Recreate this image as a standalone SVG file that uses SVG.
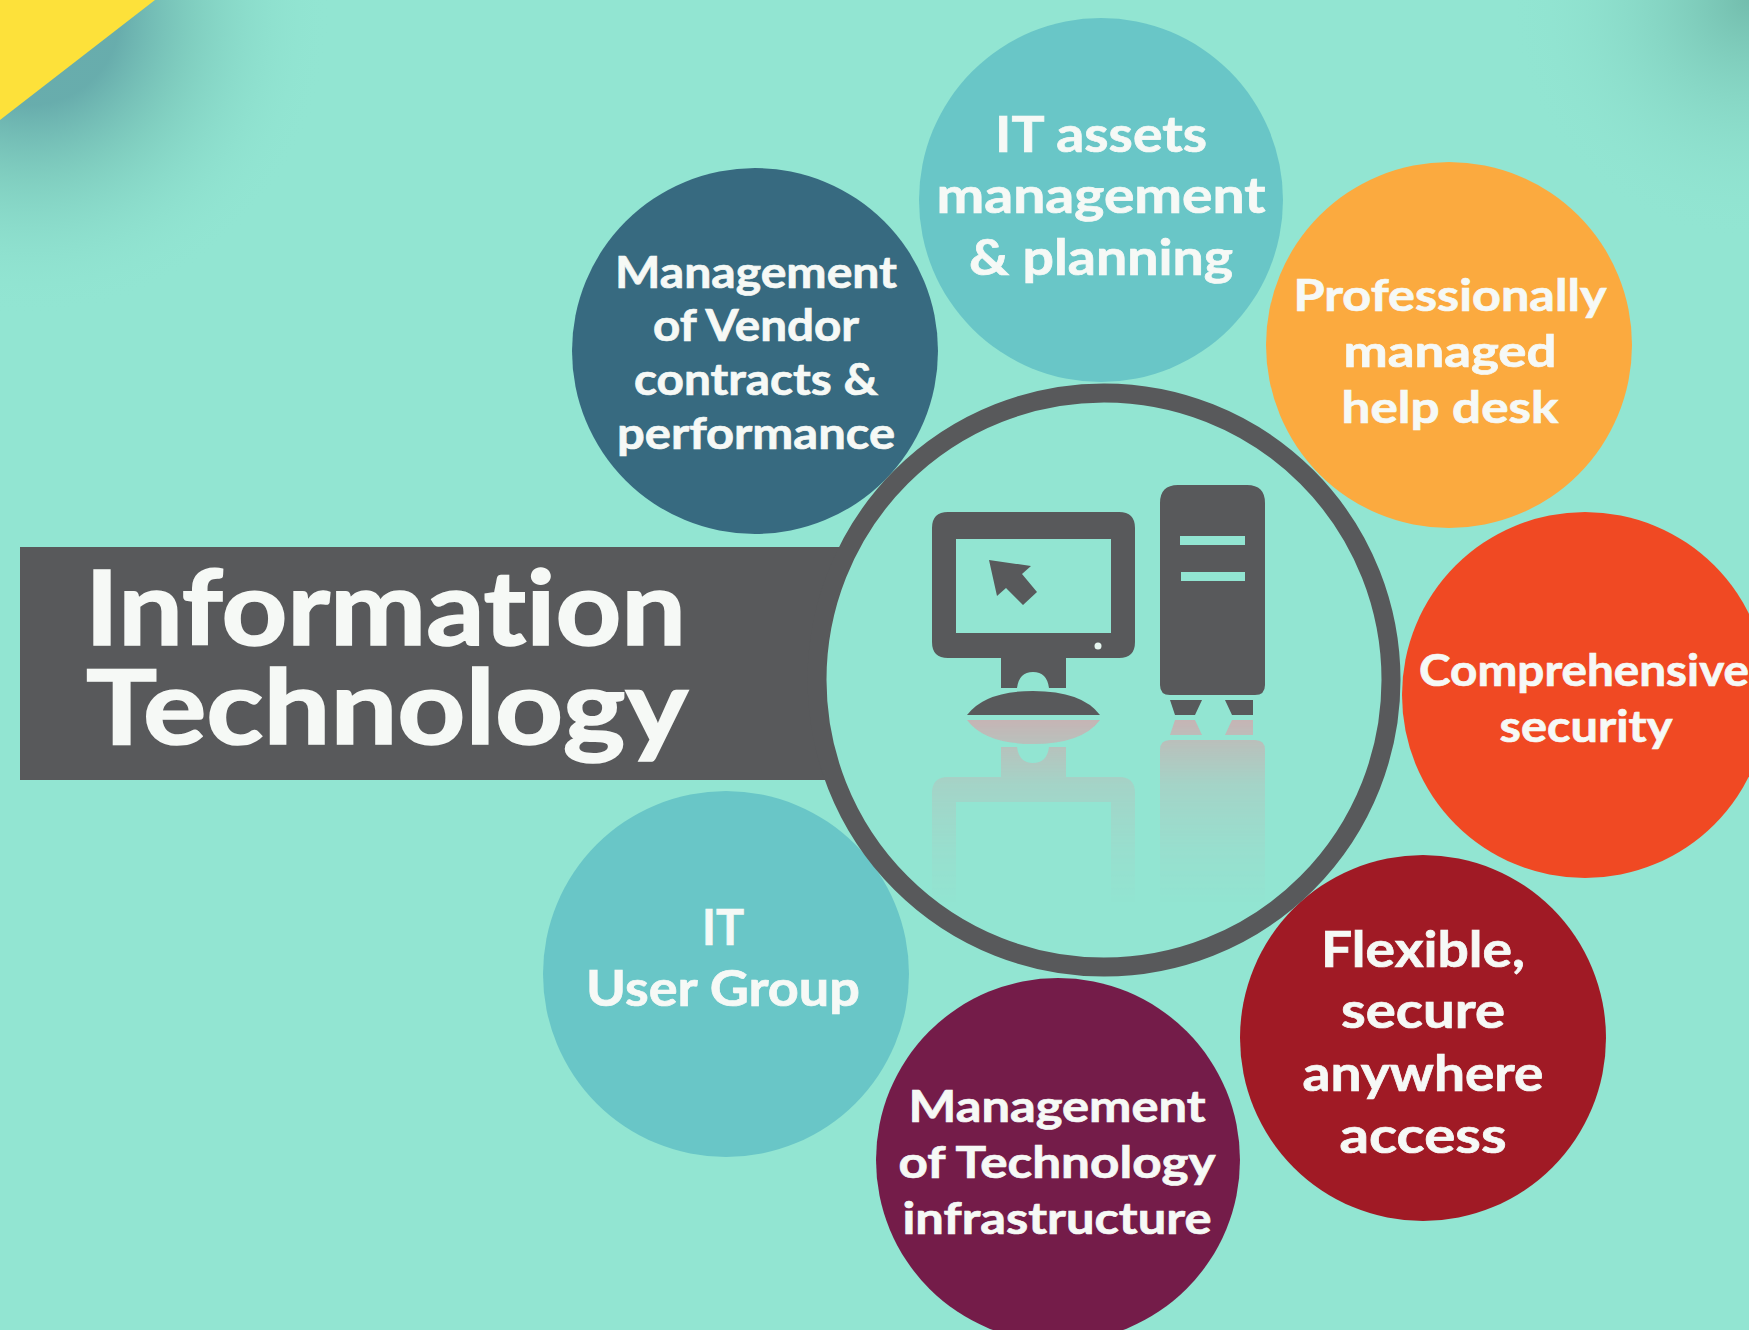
<svg xmlns="http://www.w3.org/2000/svg" xmlns:xlink="http://www.w3.org/1999/xlink" width="1749" height="1330" viewBox="0 0 1749 1330">
<style>
text{font-family:"Lato","Open Sans","Liberation Sans",sans-serif;font-weight:700;fill:#f6f9f6;stroke:#f6f9f6;stroke-width:0.7;text-anchor:middle;font-variant-ligatures:none}
.s{font-size:49px}
.v{font-size:44px}
.t{font-size:104px;text-anchor:start;stroke-width:1.6}
.g{fill:#58595b}
.r{fill:#c6b4b4}
</style>
<defs>
<radialGradient id="tl" gradientUnits="userSpaceOnUse" cx="30" cy="15" r="300">
<stop offset="0.3" stop-color="#5a9aa0" stop-opacity="0.75"/>
<stop offset="0.55" stop-color="#6cb4ab" stop-opacity="0.45"/>
<stop offset="1" stop-color="#92e5d2" stop-opacity="0"/>
</radialGradient>
<radialGradient id="tr" gradientUnits="userSpaceOnUse" cx="1749" cy="0" r="240">
<stop offset="0" stop-color="#6bb3a4" stop-opacity="0.8"/>
<stop offset="1" stop-color="#92e5d2" stop-opacity="0"/>
</radialGradient>
<linearGradient id="fade" gradientUnits="userSpaceOnUse" x1="0" y1="720" x2="0" y2="905">
<stop offset="0" stop-color="#fff" stop-opacity="1"/>
<stop offset="0.15" stop-color="#fff" stop-opacity="0.7"/>
<stop offset="0.35" stop-color="#fff" stop-opacity="0.35"/>
<stop offset="0.7" stop-color="#fff" stop-opacity="0.12"/>
<stop offset="1" stop-color="#fff" stop-opacity="0"/>
</linearGradient>
<mask id="rm" maskUnits="userSpaceOnUse" x="900" y="700" width="400" height="230"><rect x="900" y="700" width="400" height="230" fill="url(#fade)"/></mask>
</defs>
<g id="background">
<rect width="1749" height="1330" fill="#92e5d2"/>
<rect width="340" height="320" fill="url(#tl)"/>
<rect x="1500" width="249" height="250" fill="url(#tr)"/>
<path d="M0 0H155L0 120Z" fill="#fde13a"/>
</g>
<g id="node-vendor"><circle cx="755" cy="351" r="183" fill="#376a80"/></g>
<g id="node-assets"><circle cx="1101" cy="200" r="182" fill="#69c6c7"/></g>
<g id="node-helpdesk"><circle cx="1449" cy="345" r="183" fill="#fbaa3f"/></g>
<g id="node-security"><circle cx="1585" cy="695" r="183" fill="#f04923"/></g>
<g id="node-access"><circle cx="1423" cy="1038" r="183" fill="#a01a25"/></g>
<g id="node-infrastructure"><circle cx="1058" cy="1160" r="182" fill="#741c49"/></g>
<g id="node-usergroup"><circle cx="726" cy="974" r="183" fill="#69c6c7"/></g>
<g id="title-banner">
<rect x="20" y="547" width="880" height="233" fill="#58595b"/>
</g>
<g id="node-center">
<circle cx="1104" cy="680" r="287" fill="#92e5d2" stroke="#58595b" stroke-width="19"/>
<g id="computer">
<path class="g" fill-rule="evenodd" d="M948 512H1119Q1135 512 1135 528V642Q1135 658 1119 658H948Q932 658 932 642V528Q932 512 948 512ZM956 539V633H1111V539Z"/>
<path class="g" d="M989 560L1031 566L1022 574L1037 592L1023 605L1006 588L997 596Z"/>
<circle cx="1098" cy="646" r="3.5" fill="#e6f5ef"/>
<path class="g" d="M1001 656H1066V688H1049Q1047 672 1033 672Q1019 672 1017 688H1001Z"/>
<path class="g" d="M967 715Q985 691 1033 691Q1082 691 1100 715Z"/>
<path class="g" fill-rule="evenodd" d="M1178 485H1247Q1265 485 1265 503V685Q1265 695 1255 695H1170Q1160 695 1160 685V503Q1160 485 1178 485ZM1180 536V545H1245V536ZM1181 572V581H1245V572Z"/>
<path class="g" d="M1170 700H1202L1195 715H1175Z"/>
<path class="g" d="M1225 700H1253V715H1232Z"/>
</g>
<g id="reflection" mask="url(#rm)">
<g transform="matrix(1 0 0 -1 0 1435)">
<path class="r" fill-rule="evenodd" d="M948 512H1119Q1135 512 1135 528V642Q1135 658 1119 658H948Q932 658 932 642V528Q932 512 948 512ZM956 525V633H1111V525Z"/>
<path class="r" d="M1001 656H1066V688H1049Q1047 672 1033 672Q1019 672 1017 688H1001Z"/>
<path class="r" d="M967 715Q985 691 1033 691Q1082 691 1100 715Z"/>
<path class="r" d="M1178 485H1247Q1265 485 1265 503V685Q1265 695 1255 695H1170Q1160 695 1160 685V503Q1160 485 1178 485Z"/>
<path class="r" d="M1170 700H1202L1195 715H1175Z"/>
<path class="r" d="M1225 700H1253V715H1232Z"/>
</g>
</g>
</g>
<g id="labels">
<g id="label-title">
<text class="t" x="85" y="645" textLength="601" lengthAdjust="spacingAndGlyphs">Information</text>
<text class="t" x="86" y="744" textLength="602" lengthAdjust="spacingAndGlyphs">Technology</text>
</g>
<g id="label-assets">
<text class="s" x="1101" y="152" textLength="212" lengthAdjust="spacingAndGlyphs">IT assets</text>
<text class="s" x="1101" y="213" textLength="329" lengthAdjust="spacingAndGlyphs">management</text>
<text class="s" x="1101" y="275" textLength="264" lengthAdjust="spacingAndGlyphs">&amp; planning</text>
</g>
<g id="label-vendor">
<text class="v" x="756" y="288" textLength="282" lengthAdjust="spacingAndGlyphs">Management</text>
<text class="v" x="756" y="341" textLength="206" lengthAdjust="spacingAndGlyphs">of Vendor</text>
<text class="v" x="756" y="395" textLength="244" lengthAdjust="spacingAndGlyphs">contracts &amp;</text>
<text class="v" x="756" y="449" textLength="278" lengthAdjust="spacingAndGlyphs">performance</text>
</g>
<g id="label-helpdesk">
<text class="v" x="1450" y="311" textLength="313" lengthAdjust="spacingAndGlyphs">Professionally</text>
<text class="v" x="1450" y="367" textLength="213" lengthAdjust="spacingAndGlyphs">managed</text>
<text class="v" x="1450" y="423" textLength="217" lengthAdjust="spacingAndGlyphs">help desk</text>
</g>
<g id="label-security">
<text class="v" x="1584" y="686" textLength="330" lengthAdjust="spacingAndGlyphs">Comprehensive</text>
<text class="v" x="1586" y="742" textLength="173" lengthAdjust="spacingAndGlyphs">security</text>
</g>
<g id="label-access">
<text class="s" x="1423" y="967" textLength="204" lengthAdjust="spacingAndGlyphs">Flexible,</text>
<text class="s" x="1423" y="1028" textLength="164" lengthAdjust="spacingAndGlyphs">secure</text>
<text class="s" x="1423" y="1091" textLength="241" lengthAdjust="spacingAndGlyphs">anywhere</text>
<text class="s" x="1423" y="1153" textLength="167" lengthAdjust="spacingAndGlyphs">access</text>
</g>
<g id="label-infrastructure">
<text class="v" x="1057" y="1122" textLength="297" lengthAdjust="spacingAndGlyphs">Management</text>
<text class="v" x="1057" y="1178" textLength="317" lengthAdjust="spacingAndGlyphs">of Technology</text>
<text class="v" x="1057" y="1234" textLength="309" lengthAdjust="spacingAndGlyphs">infrastructure</text>
</g>
<g id="label-usergroup">
<text class="s" x="723" y="945" textLength="42" lengthAdjust="spacingAndGlyphs">IT</text>
<text class="s" x="723" y="1006" textLength="274" lengthAdjust="spacingAndGlyphs">User Group</text>
</g>
</g>
</svg>
